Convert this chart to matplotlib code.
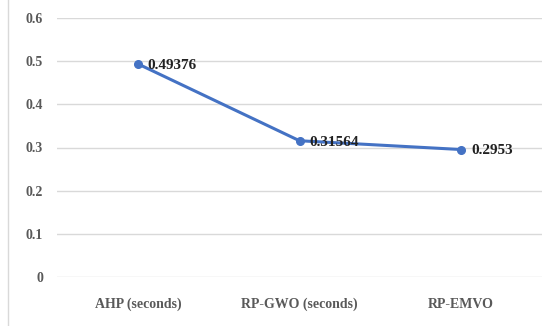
import matplotlib.pyplot as plt
from matplotlib.lines import Line2D

methods = ["AHP (seconds)", "RP-GWO (seconds)", "RP-EMVO"]
times = [0.49376, 0.31564, 0.2953]
yticks = [0, 0.1, 0.2, 0.3, 0.4, 0.5, 0.6]

plt.rcParams['font.family'] = ['Liberation Serif', 'DejaVu Serif']

fig = plt.figure(figsize=(5.48, 3.26), dpi=100)
ax = fig.add_axes([57/548, 49/326, 485/548, 259/326])

x = range(len(methods))
ax.plot(x, times, color='#4472C4', lw=2.2, marker='o', ms=5.5)
for i, v in zip(x, times):
    ax.annotate(f"{v:g}", (i, v), xytext=(7, -1), textcoords='offset points',
                ha='left', va='center', fontsize=11, fontweight='bold', color='#222222')

ax.set_xlim(-0.5, len(methods) - 0.5)
ax.set_ylim(0, 0.6)
ax.set_yticks(yticks)
ax.set_yticklabels([f"{t:g}" for t in yticks])
ax.set_xticks(list(x))
ax.set_xticklabels(methods)
ax.grid(axis='y', color='#d9d9d9', lw=1)
ax.set_axisbelow(True)
for s in ax.spines.values():
    s.set_visible(False)
ax.tick_params(length=0, labelsize=10, labelcolor='#595959')
ax.tick_params(axis='x', pad=15)
ax.tick_params(axis='y', pad=10)
for lab in ax.get_xticklabels() + ax.get_yticklabels():
    lab.set_fontweight('bold')

# chart frame edge on the left
fig.add_artist(Line2D([8/548, 8/548], [0, 1], transform=fig.transFigure,
                      color='#d9d9d9', lw=1))

fig.savefig("out.png", dpi=100)
